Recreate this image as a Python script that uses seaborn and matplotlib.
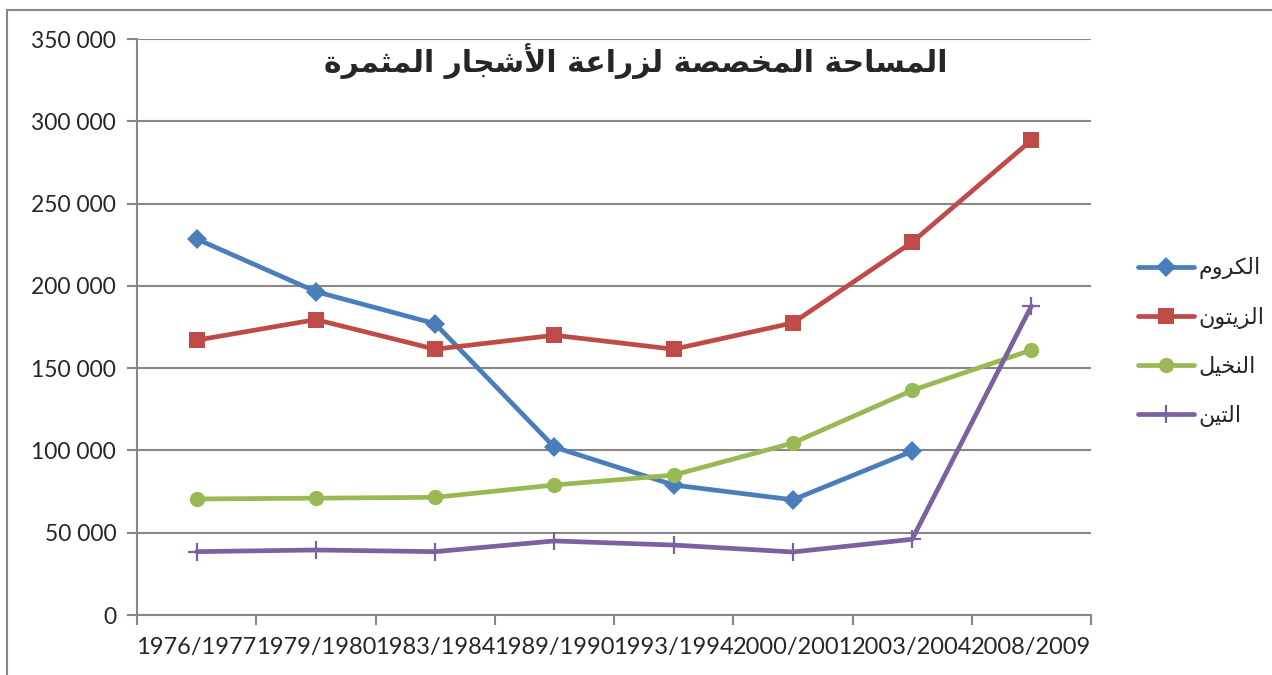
import numpy as np
import pandas as pd
import matplotlib
matplotlib.use("Agg")
import matplotlib.pyplot as plt
import seaborn as sns
from matplotlib.patches import Rectangle

# --- data ---
seasons = ["1976/1977", "1979/1980", "1983/1984", "1989/1990",
           "1993/1994", "2000/2001", "2003/2004", "2008/2009"]
kroum = [228500, 196500, 177000, 102000, 79000, 70000, 99500, np.nan]      # الكروم
zitoun = [167000, 179500, 161500, 170000, 161500, 177500, 226500, 288500]  # الزيتون
nakhil = [70500, 71000, 71500, 79000, 85000, 104500, 136500, 161000]       # النخيل
tin = [38500, 39500, 38500, 45000, 42500, 38300, 46000, 187700]            # التين

title = "المساحة المخصصة لزراعة الأشجار المثمرة"
names = ["الكروم", "الزيتون", "النخيل", "التين"]
colors = ["#4A7EBB", "#BE4B48", "#98B954", "#7D60A0"]
markers = ["D", "s", "o", "+"]
msizes = [10, 11, 11, 13]
yticks = list(range(0, 350001, 50000))

# --- tiny arabic shaper: matplotlib has no shaping / bidi ---
FORMS = {
    "ا": (0xFE8D, 0xFE8E), "أ": (0xFE83, 0xFE84), "ة": (0xFE93, 0xFE94),
    "ز": (0xFEAF, 0xFEB0), "ر": (0xFEAD, 0xFEAE), "و": (0xFEED, 0xFEEE),
    "ل": (0xFEDD, 0xFEDE, 0xFEDF, 0xFEE0), "م": (0xFEE1, 0xFEE2, 0xFEE3, 0xFEE4),
    "س": (0xFEB1, 0xFEB2, 0xFEB3, 0xFEB4), "ح": (0xFEA1, 0xFEA2, 0xFEA3, 0xFEA4),
    "خ": (0xFEA5, 0xFEA6, 0xFEA7, 0xFEA8), "ص": (0xFEB9, 0xFEBA, 0xFEBB, 0xFEBC),
    "ع": (0xFEC9, 0xFECA, 0xFECB, 0xFECC), "ش": (0xFEB5, 0xFEB6, 0xFEB7, 0xFEB8),
    "ج": (0xFE9D, 0xFE9E, 0xFE9F, 0xFEA0), "ث": (0xFE99, 0xFE9A, 0xFE9B, 0xFE9C),
    "ك": (0xFED9, 0xFEDA, 0xFEDB, 0xFEDC), "ي": (0xFEF1, 0xFEF2, 0xFEF3, 0xFEF4),
    "ت": (0xFE95, 0xFE96, 0xFE97, 0xFE98), "ن": (0xFEE5, 0xFEE6, 0xFEE7, 0xFEE8),
}
LAM_ALEF = {"ا": (0xFEFB, 0xFEFC), "أ": (0xFEF7, 0xFEF8)}


def shape(text):
    out = []
    i = 0
    while i < len(text):
        c = text[i]
        prev = text[i - 1] if i > 0 else " "
        joins_prev = prev in FORMS and len(FORMS[prev]) == 4
        nxt = text[i + 1] if i + 1 < len(text) else " "
        if c == "ل" and nxt in LAM_ALEF:
            out.append(chr(LAM_ALEF[nxt][1 if joins_prev else 0]))
            i += 2
            continue
        if c in FORMS:
            f = FORMS[c]
            joins_next = len(f) == 4 and nxt in FORMS
            if joins_prev and joins_next:
                out.append(chr(f[3]))
            elif joins_next:
                out.append(chr(f[2]))
            elif joins_prev:
                out.append(chr(f[1]))
            else:
                out.append(chr(f[0]))
        else:
            out.append(c)
        i += 1
    return "".join(out)[::-1]


df = pd.DataFrame({"season": seasons * 4,
                   "area": kroum + zitoun + nakhil + tin,
                   "crop": [n for n in names for _ in seasons]})

sns.set_theme(style="white")
plt.rcParams["font.family"] = ["Lato", "DejaVu Sans"]

fig = plt.figure(figsize=(12.72, 6.75), dpi=100)
ax = fig.add_axes([137 / 1272, 1 - 615 / 675, (1091 - 137) / 1272, (615 - 39) / 675])

for name, col, mk, ms in zip(names, colors, markers, msizes):
    sub = df[df["crop"] == name]
    sns.lineplot(data=sub, x="season", y="area", ax=ax, sort=False, color=col,
                 lw=3.4, marker=mk, ms=ms, mec=col, mfc=col,
                 mew=1.6 if mk == "+" else 0, label=shape(name))

grid_col = "#878787"
ax.set_xlim(-0.5, len(seasons) - 0.5)
ax.set_ylim(0, 350000)
ax.set_yticks(yticks)
ax.set_yticklabels([f"{v:,}".replace(",", " ") for v in yticks], fontsize=16.5)
ax.yaxis.grid(True, color=grid_col, lw=1.5)
ax.set_axisbelow(True)
ax.tick_params(axis="y", length=7, width=1.5, color=grid_col, left=True, pad=8)
ax.set_xticks(range(len(seasons)))
ax.set_xticklabels(seasons, fontsize=17)
ax.set_xticks(np.arange(-0.5, len(seasons)), minor=True)
ax.tick_params(axis="x", which="major", length=0, pad=16)
ax.tick_params(axis="x", which="minor", length=7, width=1.5, color=grid_col, bottom=True)
ax.set_xlabel("")
ax.set_ylabel("")
for s in ["top", "right"]:
    ax.spines[s].set_visible(False)
for s in ["left", "bottom"]:
    ax.spines[s].set_color(grid_col)
    ax.spines[s].set_linewidth(1.5)

leg = ax.legend(loc="center left", bbox_to_anchor=(1118 / 1272, 1 - 342 / 675),
                bbox_transform=fig.transFigure, frameon=False, handlelength=2.5,
                handletextpad=0.2, labelspacing=1.25,
                prop={"family": ["DejaVu Sans"], "size": 16})

fig.text(0.5, 1 - 61 / 675, shape(title), ha="center", va="center",
         fontsize=21.5, fontweight="bold", family=["DejaVu Sans"])

fig.patches.append(Rectangle((7 / 1272, -0.1), 1.2, 0.1 + (1 - 10 / 675),
                             transform=fig.transFigure, fill=False,
                             ec=grid_col, lw=1.5))

fig.savefig("out.png", dpi=100)
